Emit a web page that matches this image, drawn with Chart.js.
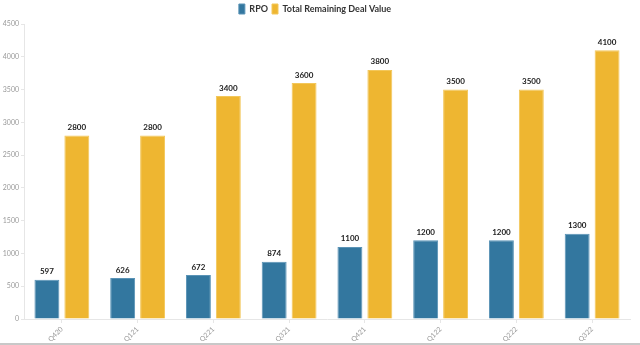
<!DOCTYPE html>
<html>
<head>
<meta charset="utf-8">
<script src="https://cdn.jsdelivr.net/npm/chart.js@4/dist/chart.umd.min.js"></script>
<style>
  html, body { margin: 0; padding: 0; background: #fff; }
  #wrap { width: 640px; height: 345px; position: relative; }
  #bottomLine { position: absolute; left: 0; right: 0; bottom: 0; height: 2px; background: #c8c8c8; }
</style>
</head>
<body>
<div id="wrap">
  <canvas id="dealChart" width="640" height="345"></canvas>
  <div id="bottomLine"></div>
</div>
<script>
// quarters and values
const quarters = ['Q420', 'Q121', 'Q221', 'Q321', 'Q421', 'Q122', 'Q222', 'Q322'];
const rpoValues = [597, 626, 672, 874, 1100, 1200, 1200, 1300];
const dealValues = [2800, 2800, 3400, 3600, 3800, 3500, 3500, 4100];
const yTicks = [0, 500, 1000, 1500, 2000, 2500, 3000, 3500, 4000, 4500];

const fontFam = "Lato, 'Open Sans', sans-serif";

// draws the value above each bar
const barLabels = {
  id: 'barLabels',
  afterDatasetsDraw(chart) {
    const ctx = chart.ctx;
    ctx.save();
    ctx.font = 'bold 8px ' + fontFam;
    ctx.fillStyle = '#222';
    ctx.textAlign = 'center';
    ctx.textBaseline = 'bottom';
    chart.data.datasets.forEach((ds, i) => {
      chart.getDatasetMeta(i).data.forEach((bar, j) => {
        ctx.fillText(ds.data[j], bar.x, bar.y - 4);
      });
    });
    ctx.restore();
  }
};

new Chart(document.getElementById('dealChart').getContext('2d'), {
  type: 'bar',
  data: {
    labels: quarters,
    datasets: [{
      label: 'RPO',
      data: rpoValues,
      backgroundColor: '#33779f',
      borderColor: '#5a93b6',
      borderWidth: 1,
      barPercentage: 0.833,
      categoryPercentage: 0.79
    }, {
      label: 'Total Remaining Deal Value',
      data: dealValues,
      backgroundColor: '#eeb631',
      borderColor: '#f3c75a',
      borderWidth: 1,
      barPercentage: 0.833,
      categoryPercentage: 0.79
    }]
  },
  options: {
    responsive: false,
    animation: false,
    layout: { padding: { left: 0, right: 10, top: 0, bottom: 2 } },
    plugins: {
      tooltip: { enabled: false },
      legend: {
        position: 'top',
        labels: {
          boxWidth: 6,
          boxHeight: 10,
          padding: 4,
          color: '#333',
          font: { family: fontFam, size: 9, weight: 'bold' }
        }
      }
    },
    scales: {
      x: {
        grid: { display: true, offset: false, drawOnChartArea: false, tickLength: 4, color: '#e6e6e6' },
        border: { color: '#e6e6e6' },
        ticks: {
          color: '#999',
          font: { family: fontFam, size: 7 },
          maxRotation: 45,
          minRotation: 45,
          padding: 2
        },
        afterFit(scale) { scale.height = 24; }
      },
      y: {
        min: 0,
        max: 4500,
        afterBuildTicks(scale) { scale.ticks = yTicks.map(v => ({ value: v })); },
        grid: { display: true, drawOnChartArea: false, tickLength: 3, color: '#e6e6e6' },
        border: { color: '#e6e6e6' },
        ticks: {
          color: '#999',
          font: { family: fontFam, size: 7 },
          padding: 2,
          callback: v => String(v)
        },
        afterFit(scale) { scale.width = 24; }
      }
    }
  },
  plugins: [barLabels]
});
</script>
</body>
</html>
